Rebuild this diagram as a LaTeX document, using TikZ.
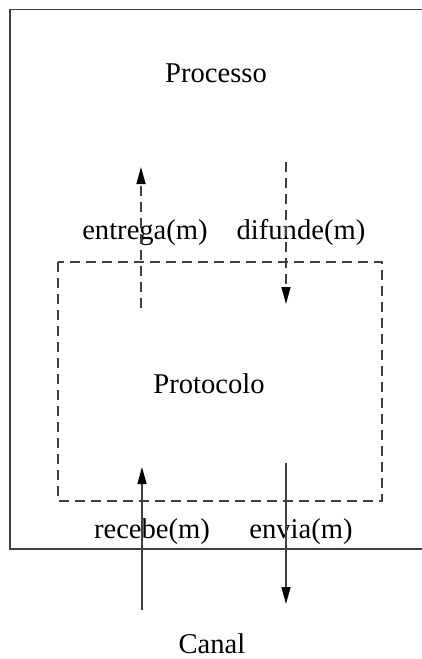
\documentclass[tikz,border=0pt]{standalone}
\usepackage{fontspec}
\setmainfont{Liberation Serif}
\usetikzlibrary{arrows.meta}
\definecolor{linegray}{HTML}{404040}
\begin{document}
\begin{tikzpicture}[x=1pt,y=-1pt,
  lbl/.style={font=\fontsize{28.6}{31}\selectfont, text=black, inner sep=0pt, anchor=base},
  frame/.style={draw=linegray, line width=1.3pt},
  dashframe/.style={draw=linegray, line width=1.3pt, dash pattern=on 10pt off 6pt},
  flow/.style={draw=linegray, line width=1.3pt, -{Triangle[length=17pt,width=9pt,fill=black,color=black]}},
  dflow/.style={flow, dash pattern=on 10pt off 6pt}]
\useasboundingbox (0,0) rectangle (422,659);
% outer process frame (open at right)
\draw[frame] (423,9.5) -- (10,9.5) -- (10,549) -- (423,549);
% protocol dashed box
\draw[dashframe] (58,262) rectangle (382,501);
% labels
\node[lbl] (proc) at (216,82) {Processo};
\node[lbl] (entrega) at (145,239) {entrega(m)};
\node[lbl] (difunde) at (301,239) {difunde(m)};
\node[lbl] (prot) at (209,393) {Protocolo};
\node[lbl] (recebe) at (152,538) {recebe(m)};
\node[lbl] (envia) at (301,538) {envia(m)};
\node[lbl, text depth=0pt] (canal) at (212,653) {Canal};
% arrow endpoints
\coordinate (e0) at (141,308);
\coordinate (e1) at (141,167);
\coordinate (d0) at (286,162);
\coordinate (d1) at (286,304);
\coordinate (r0) at (142,610);
\coordinate (r1) at (142,467);
\coordinate (s0) at (286,463);
\coordinate (s1) at (286,604);
\draw[dflow] (e0) -- (e1);
\draw[dflow] (d0) -- (d1);
\draw[flow] (r0) -- (r1);
\draw[flow] (s0) -- (s1);
\end{tikzpicture}
\end{document}
